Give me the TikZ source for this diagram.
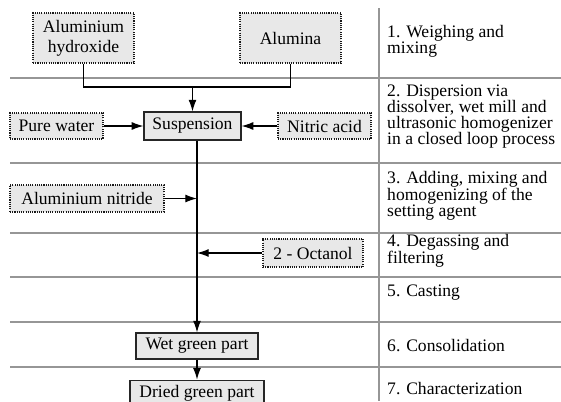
\documentclass[tikz,border=0pt]{standalone}
\usepackage{fontspec}
\setmainfont{Liberation Serif}
\usepackage{tikz}
\usetikzlibrary{positioning,arrows.meta}
\definecolor{boxgray}{RGB}{232,232,232}
\definecolor{rulegray}{RGB}{150,150,150}

\begin{document}
\begin{tikzpicture}[
  font=\fontsize{15}{13.7}\selectfont,
  raw/.style={draw=black!90, densely dotted, fill=boxgray, line width=.9pt, inner sep=1pt},
  product/.style={draw=black!85, fill=boxgray, line width=1pt, inner sep=1pt},
  flow/.style={line width=1pt, -{Latex[length=3.5mm,width=2.4mm]}},
  stage/.style={anchor=west, align=left, inner sep=0pt}
]
\useasboundingbox (0,0) rectangle (16.83,-12.03);

% Stage separators
\foreach \y in {-2.34,-4.89,-6.99,-8.31,-9.66,-11.01}
  \draw[rulegray, line width=1pt] (0.3,\y) -- (16.83,\y);
\draw[rulegray, line width=1pt] (11.37,-0.24) -- (11.37,-12.03);

% Weighing and mixing
\node[raw, minimum width=3.03cm, minimum height=1.5cm, align=center, font=\fontsize{15}{17}\selectfont] (AlOH) at (2.505,-1.14) {Aluminium\\hydroxide};
\node[raw, minimum width=3.03cm, minimum height=1.5cm] (Alumina) at (8.715,-1.14) {Alumina};
\coordinate (J) at (5.775,-2.61);

% Dispersion
\node[product, minimum width=2.91cm, minimum height=.84cm] (Susp) at (5.775,-3.78) {Suspension};
\node[raw, minimum width=2.79cm, minimum height=.78cm] (Water) at (1.695,-3.78) {Pure water};
\node[raw, minimum width=2.79cm, minimum height=.78cm] (Acid) at (9.735,-3.78) {Nitric acid};

% Setting agent and degassing
\node[raw, minimum width=4.62cm, minimum height=.81cm] (AlN) at (2.61,-5.955) {Aluminium nitride};
\node[raw, minimum width=3cm, minimum height=.84cm] (Oct) at (9.39,-7.59) {2 - Octanol};

% Parts
\node[product, minimum width=3.66cm, minimum height=.78cm] (Wet) at (5.91,-10.38) {Wet green part};
\node[product, minimum width=4.02cm, minimum height=.8cm] (Dried) at (5.91,-11.805) {Dried green part};

% Stages
\node[stage] (S1) at (11.61,-1.24) {1. Weighing and\\mixing};
\node[stage] (S2) at (11.61,-3.495) {2. Dispersion via\\dissolver, wet mill and\\ultrasonic homogenizer\\in a closed loop process};
\node[stage] (S3) at (11.61,-5.865) {3. Adding, mixing and\\homogenizing of the\\setting agent};
\node[stage] (S4) at (11.61,-7.515) {4. Degassing and\\filtering};
\node[stage] (S5) at (11.61,-8.79) {5. Casting};
\node[stage] (S6) at (11.61,-10.38) {6. Consolidation};
\node[stage] (S7) at (11.61,-11.67) {7. Characterization};

% Arrows
\draw[line width=1pt] (AlOH.south) |- (J) -| (Alumina.south);
\draw[flow] (J) -- (Susp.north);
\draw[flow] (Water.east) -- (Susp.west);
\draw[flow] (Acid.west) -- (Susp.east);
\draw[flow] (Susp.south -| Wet.north) -- (Wet.north);
\draw[flow] (AlN.east) -- (AlN.east -| Wet.north);
\draw[flow] (Oct.west) -- (Oct.west -| Wet.north);
\draw[flow] (Wet.south) -- (Dried.north);

\end{tikzpicture}
\end{document}
